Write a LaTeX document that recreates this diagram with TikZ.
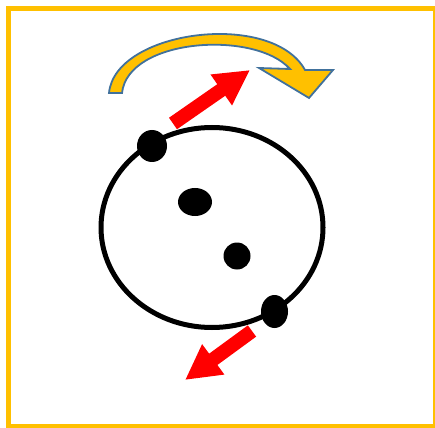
\documentclass[tikz,border=0pt]{standalone}
\usepackage{tikz}
\usetikzlibrary{arrows.meta,shapes.geometric}
\definecolor{framegold}{HTML}{FFC000}
\definecolor{edgeblue}{HTML}{41719C}
\definecolor{pushred}{HTML}{FF0000}

\begin{document}
\begin{tikzpicture}[x=1pt, y=-1pt,
    frame/.style={draw=framegold, line width=5pt},
    ring/.style={draw=black, line width=5pt},
    dot/.style={ellipse, fill=black, inner sep=0pt},
    spin/.style={fill=framegold, draw=edgeblue, line width=1.8pt, line join=miter},
    push/.style={draw=pushred, line width=14pt, -{Triangle[width=35pt, length=35pt]}}
  ]
  \useasboundingbox (0,0) rectangle (435,427);
  \draw[frame] (8.5,8.5) rectangle (435.5,426.8);

  % curved arrow on top
  \path[spin] (109,93) .. controls (115,30) and (272,10) .. (305,70)
    -- (333,70) -- (309,98) -- (259,68) -- (290,69)
    .. controls (255,30) and (128,38) .. (122,93) -- cycle;

  % body
  \draw[ring] (212,227.5) ellipse [x radius=111, y radius=100];
  \node[dot, minimum width=30pt, minimum height=32pt] (top)   at (152,146) {};
  \node[dot, minimum width=34pt, minimum height=28pt] (inA)   at (195,202) {};
  \node[dot, minimum width=27pt, minimum height=27pt] (inB)   at (237,256) {};
  \node[dot, minimum width=27pt, minimum height=33pt] (low)   at (274.5,311.5) {};

  % forces
  \coordinate (upTail) at (173,123.5);
  \coordinate (upTip)  at (250,70);
  \coordinate (dnTail) at (252,331);
  \coordinate (dnTip)  at (185,380);
  \draw[push] (upTail) -- (upTip);
  \draw[push] (dnTail) -- (dnTip);
\end{tikzpicture}
\end{document}
